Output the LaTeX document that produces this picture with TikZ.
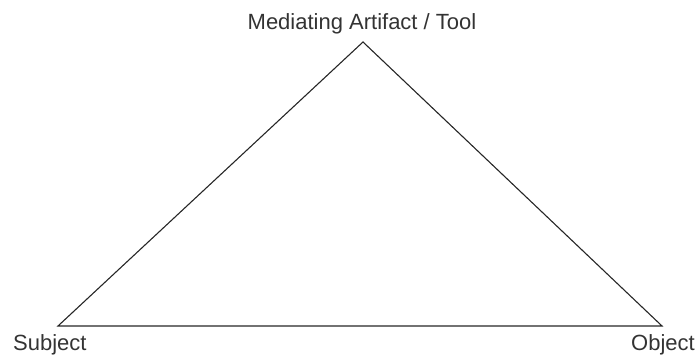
\documentclass[tikz,border=0pt]{standalone}
\usepackage{fontspec}
\setmainfont{Liberation Sans}
\usetikzlibrary{positioning}

\begin{document}
\begin{tikzpicture}[x=1pt, y=-1pt,
    lbl/.style={font=\fontsize{22}{26}\selectfont, text=black!80, inner sep=0pt, anchor=base},
    edge/.style={line width=1.1pt, black!85}]
    \useasboundingbox (0,0) rectangle (696,358);

    % Corners of the activity triangle
    \coordinate (tool) at (363,42);
    \coordinate (subject) at (58,326);
    \coordinate (object) at (662,326);

    % Labels
    \node[lbl] (toollbl) at (362,30) {Mediating Artifact / Tool};
    \node[lbl, anchor=base west] (subjectlbl) at (13,350) {Subject};
    \node[lbl, anchor=base east] (objectlbl) at (695,350) {Object};

    % Triangle
    \draw[edge] (subject) -- (tool) -- (object) -- cycle;
\end{tikzpicture}
\end{document}
